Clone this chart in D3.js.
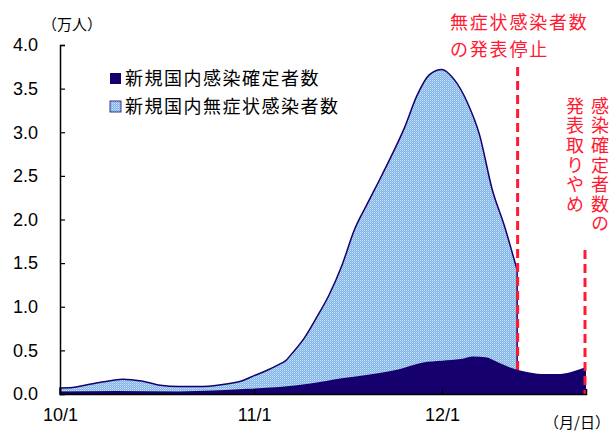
<!DOCTYPE html>
<html>
<head>
<meta charset="utf-8">
<script src="https://cdn.jsdelivr.net/npm/d3@7"></script>
<style>
	body { margin: 0; background: #fff; }
	svg { display: block; }
	text { font-family: "Liberation Sans", Arial, sans-serif; }
	.jp { font-family: "Noto Sans CJK JP", sans-serif; }
	.vert { writing-mode: vertical-rl; text-orientation: upright; }
</style>
</head>
<body>
<div class="chart"></div>
<script>

// Data (万人)

var
	asymDates  = ['10/1','10/3','10/5','10/8','10/11','10/14','10/17','10/20','10/23','10/27','10/30',
		'11/1','11/3','11/5','11/6','11/7','11/9','11/11','11/13','11/15','11/17','11/19','11/21','11/23','11/25','11/27','11/29',
		'12/1','12/3','12/5','12/7','12/9','12/11','12/13'],
	asymValues = [0.07, 0.075, 0.10, 0.14, 0.17, 0.15, 0.10, 0.085, 0.085, 0.11, 0.15,
		0.21, 0.27, 0.34, 0.38, 0.46, 0.64, 0.88, 1.14, 1.47, 1.88, 2.17, 2.45, 2.74, 3.05, 3.42, 3.66,
		3.72, 3.60, 3.35, 2.97, 2.35, 1.92, 1.42],

	confDates  = ['10/1','10/10','10/20','10/31','11/5','11/10','11/15','11/20','11/24','11/28',
		'12/1','12/4','12/6','12/8','12/10','12/12','12/14','12/17','12/20','12/22','12/24'],
	confValues = [0.03, 0.035, 0.03, 0.06, 0.08, 0.12, 0.18, 0.23, 0.28, 0.36,
		0.38, 0.40, 0.43, 0.42, 0.36, 0.30, 0.26, 0.23, 0.23, 0.26, 0.31],

	yTicks = [0, 0.5, 1.0, 1.5, 2.0, 2.5, 3.0, 3.5, 4.0],
	xTicks = ['10/1', '11/1', '12/1'],

	legendLabels = ['新規国内感染確定者数', '新規国内無症状感染者数'],
	stopAsymLines = ['無症状感染者数', 'の発表停止'],
	stopConfCols = ['感染確定者数の', '発表取りやめ'],
	stopAsymDate = '12/13',
	stopConfDate = '12/24';

var parse = function(s) { return d3.timeParse('%Y/%m/%d')('2022/' + s); };

var
	asym = asymDates.map(function(d, i) { return {date: parse(d), v: asymValues[i]}; }),
	conf = confDates.map(function(d, i) { return {date: parse(d), v: confValues[i]}; });

// Scales

var
	x = d3.scaleTime().domain([parse('10/1'), parse('12/24')]).range([60, 586]),
	y = d3.scaleLinear().domain([0, 4]).range([394, 45]),
	red = '#ff1a33',
	navy = '#15006e';

var svg = d3.select('.chart').append('svg')
	.attr('width', 612)
	.attr('height', 432);

// checked fill for the asymptomatic area

var pat = svg.append('defs').append('pattern')
	.attr('id', 'chk')
	.attr('width', 2)
	.attr('height', 2)
	.attr('patternUnits', 'userSpaceOnUse');
pat.append('rect').attr('width', 2).attr('height', 2).attr('fill', '#7fb4e6');
pat.append('rect').attr('width', 1).attr('height', 1).attr('fill', '#cfe3f8');
pat.append('rect').attr('x', 1).attr('y', 1).attr('width', 1).attr('height', 1).attr('fill', '#a3c9ef');

var
	area = d3.area()
		.x(function(d) { return x(d.date); })
		.y0(y(0))
		.y1(function(d) { return y(d.v); })
		.curve(d3.curveMonotoneX);

svg.append('path')
	.datum(asym)
	.attr('d', area)
	.attr('fill', 'url(#chk)')
	.attr('stroke', navy)
	.attr('stroke-width', 1.5);

// red line: asymptomatic reporting stopped (behind the confirmed area)

svg.append('line')
	.attr('x1', x(parse(stopAsymDate)) + 0.5)
	.attr('x2', x(parse(stopAsymDate)) + 0.5)
	.attr('y1', 67)
	.attr('y2', y(0))
	.attr('stroke', red)
	.attr('stroke-width', 3)
	.attr('stroke-dasharray', '9,5');

svg.append('path')
	.datum(conf)
	.attr('d', area)
	.attr('fill', navy);

svg.append('line')
	.attr('x1', x(parse(stopConfDate)) - 1)
	.attr('x2', x(parse(stopConfDate)) - 1)
	.attr('y1', 250)
	.attr('y2', y(0))
	.attr('stroke', red)
	.attr('stroke-width', 3)
	.attr('stroke-dasharray', '9,5');

// Axes

svg.append('g')
	.attr('transform', 'translate(60,0)')
	.call(d3.axisLeft(y).tickValues(yTicks).tickSize(-5).tickPadding(22).tickFormat(d3.format('.1f')));

svg.append('g')
	.attr('transform', 'translate(0,' + y(0) + ')')
	.call(d3.axisBottom(x).tickValues(xTicks.map(parse)).tickSize(-5).tickPadding(14)
		.tickFormat(d3.timeFormat('%-m/%-d')));

svg.selectAll('.domain').attr('stroke', '#000').attr('stroke-width', 1.5);
svg.selectAll('.tick line').attr('stroke', '#000').attr('stroke-width', 1.2);
svg.selectAll('.tick text')
	.attr('fill', '#000')
	.style('font-size', '18px')
	.style('font-family', '"Liberation Sans", Arial, sans-serif');

svg.append('text')
	.attr('class', 'jp')
	.attr('x', 72)
	.attr('y', 30)
	.attr('text-anchor', 'middle')
	.style('font-size', '15px')
	.text('（万人）');

svg.append('text')
	.attr('class', 'jp')
	.attr('x', 610)
	.attr('y', 428)
	.attr('text-anchor', 'end')
	.style('font-size', '15px')
	.text('（月/日）');

// Legend

var legend = svg.selectAll('g.leg')
	.data(legendLabels)
	.enter()
	.append('g')
	.attr('class', 'leg')
	.attr('transform', function(d, i) { return 'translate(110,' + (73 + i * 28) + ')'; });

legend.append('rect')
	.attr('width', 11)
	.attr('height', 11)
	.attr('fill', function(d, i) { return i ? 'url(#chk)' : navy; })
	.attr('stroke', function(d, i) { return i ? navy : 'none'; })
	.attr('stroke-width', 0.8);

legend.append('text')
	.attr('class', 'jp')
	.attr('x', 15)
	.attr('y', 12)
	.style('font-size', '18px')
	.style('letter-spacing', '1.5px')
	.text(function(d) { return d; });

// Annotations

svg.selectAll('text.stopA')
	.data(stopAsymLines)
	.enter()
	.append('text')
	.attr('class', 'jp stopA')
	.attr('x', 450)
	.attr('y', function(d, i) { return 29 + i * 27; })
	.attr('fill', red)
	.style('font-size', '18px')
	.style('letter-spacing', '1.8px')
	.text(function(d) { return d; });

svg.selectAll('text.stopC')
	.data(stopConfCols)
	.enter()
	.append('text')
	.attr('class', 'jp vert stopC')
	.attr('x', function(d, i) { return i ? 575 : 600; })
	.attr('y', 97)
	.attr('fill', red)
	.style('font-size', '18px')
	.style('letter-spacing', '1.6px')
	.text(function(d) { return d; });

</script>
</body>
</html>
